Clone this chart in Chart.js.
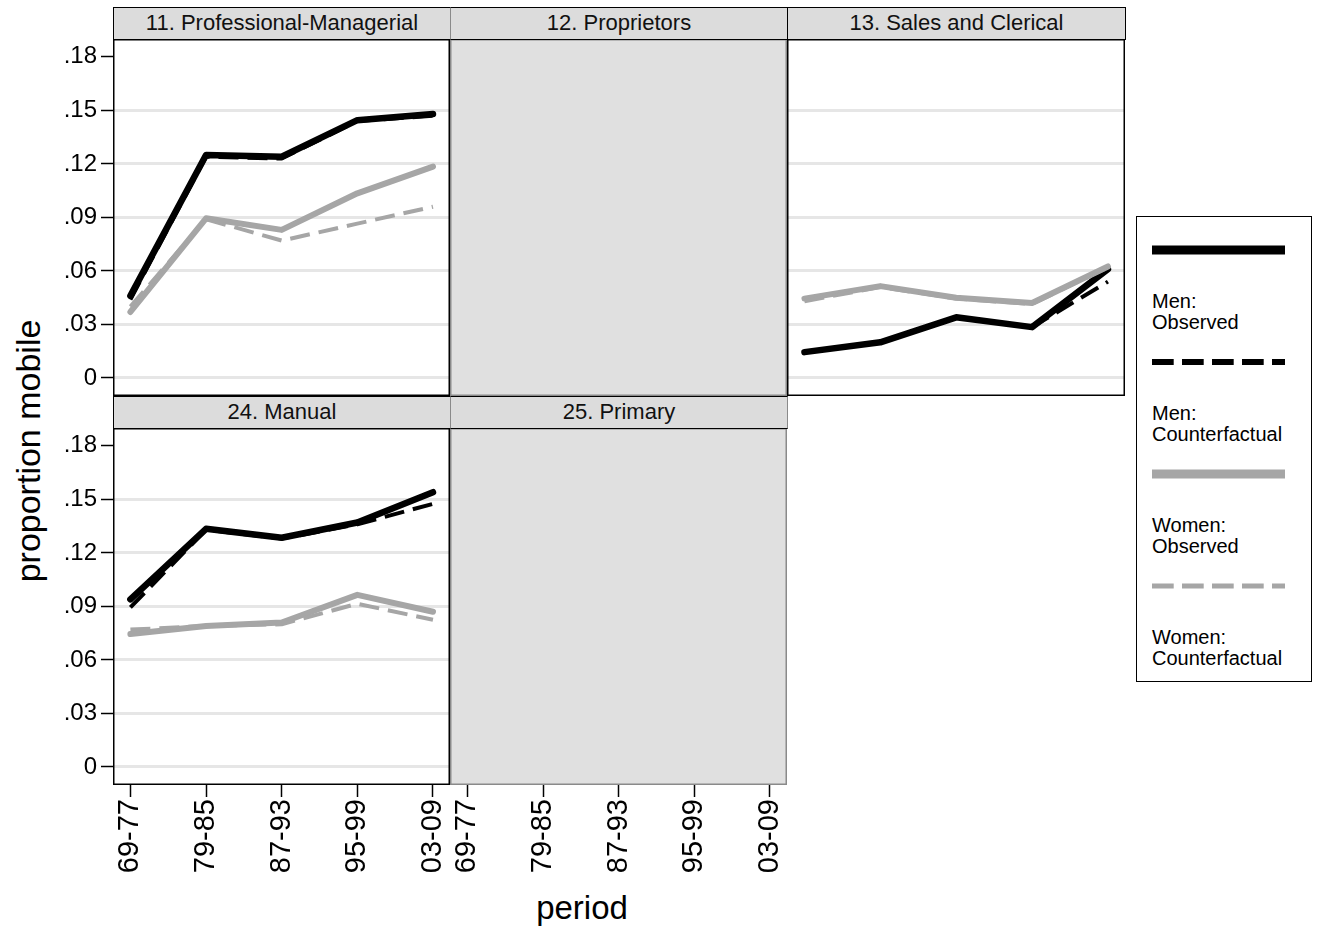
<!DOCTYPE html>
<html>
<head>
<meta charset="utf-8">
<title>proportion mobile by period</title>
<script src="https://cdn.jsdelivr.net/npm/chart.js@4/dist/chart.umd.min.js"></script>
<style>
  html, body { margin: 0; padding: 0; background: #fff; }
  body {
    width: 1318px; height: 929px; position: relative; overflow: hidden;
    font-family: "Liberation Sans", Arial, Helvetica, sans-serif; color: #000;
  }
  canvas { position: absolute; display: block; }
  .strip {
    position: absolute; box-sizing: border-box; height: 33px;
    background: #dcdcdc; border: 1.5px solid #000;
    font-size: 22px; line-height: 30px; text-align: center; color: #111;
    white-space: nowrap; z-index: 5;
  }
  .strip.empty { border-left-color: #8a8a8a; border-right-color: #8a8a8a; }
  .axis-title { position: absolute; white-space: nowrap; line-height: 1; }
  #ytitle { left: 28px; top: 451px; font-size: 34px; transform: translate(-50%, -50%) rotate(-90deg); }
  #xtitle { left: 582px; top: 907px; font-size: 33px; transform: translate(-50%, -50%); }
  #legend {
    position: absolute; left: 1136px; top: 216px; width: 176px; height: 466px;
    box-sizing: border-box; border: 1.5px solid #000; background: #fff;
  }
  #legend svg { position: absolute; left: 15px; }
  #legend .lt { position: absolute; left: 15px; font-size: 20px; line-height: 21px; white-space: nowrap; }
</style>
</head>
<body>
<div id="ytitle" class="axis-title">proportion mobile</div>
<div id="xtitle" class="axis-title">period</div>
<div id="legend"></div>

<script>
// ---- data -------------------------------------------------------------
const periods = ['69-77', '79-85', '87-93', '95-99', '03-09'];
const yTickValues = [0, 0.03, 0.06, 0.09, 0.12, 0.15, 0.18];
const yTickLabels = ['0', '.03', '.06', '.09', '.12', '.15', '.18'];

const seriesNames = [
  ['Men:', 'Observed'],
  ['Men:', 'Counterfactual'],
  ['Women:', 'Observed'],
  ['Women:', 'Counterfactual']
];

// 11. Professional-Managerial
const profMenObs     = [0.046, 0.125, 0.124, 0.1445, 0.148];
const profMenCf      = [0.044, 0.124, 0.123, 0.144, 0.147];
const profWomenObs   = [0.037, 0.0895, 0.083, 0.1035, 0.1185];
const profWomenCf    = [0.040, 0.089, 0.077, 0.0865, 0.096];

// 13. Sales and Clerical
const salesMenObs    = [0.0145, 0.020, 0.034, 0.0285, 0.061];
const salesMenCf     = [0.0145, 0.020, 0.034, 0.0285, 0.054];
const salesWomenObs  = [0.0445, 0.0515, 0.045, 0.042, 0.0625];
const salesWomenCf   = [0.043, 0.051, 0.0445, 0.0415, 0.062];

// 24. Manual
const manMenObs      = [0.094, 0.1335, 0.1285, 0.137, 0.154];
const manMenCf       = [0.0895, 0.133, 0.128, 0.136, 0.1475];
const manWomenObs    = [0.0745, 0.079, 0.081, 0.0965, 0.087];
const manWomenCf     = [0.077, 0.079, 0.080, 0.0915, 0.0825];

// ---- styling ----------------------------------------------------------
const FONT = '"Liberation Sans", Arial, Helvetica, sans-serif';
const GRAY = '#a6a6a6';
const seriesStyle = [
  { color: '#000', width: 6.5, dash: [],     legendWidth: 9, order: 4 },
  { color: '#000', width: 4,   dash: [20, 9], legendWidth: 6, order: 3 },
  { color: GRAY,   width: 6,   dash: [],     legendWidth: 9, order: 2 },
  { color: GRAY,   width: 4,   dash: [20, 9], legendWidth: 5, order: 1 }
];

const colLeft = [113, 450, 787];
const colWidth = [337, 337, 338];
const plotTop = [39, 428];
const stripTop = [7, 396];
const PLOT_H = 357;
const Y_AXIS_W = 113;
const X_AXIS_H = 100;
const X_MIN = -0.23, X_MAX = 4.225;
const Y_MIN = -0.0101, Y_MAX = 0.19;

const panels = [
  { title: '11. Professional-Managerial', col: 0, row: 0, yLabels: true,  xLabels: false,
    series: [profMenObs, profMenCf, profWomenObs, profWomenCf] },
  { title: '12. Proprietors', col: 1, row: 0, yLabels: false, xLabels: false, series: null },
  { title: '13. Sales and Clerical', col: 2, row: 0, yLabels: false, xLabels: false,
    series: [salesMenObs, salesMenCf, salesWomenObs, salesWomenCf] },
  { title: '24. Manual', col: 0, row: 1, yLabels: true, xLabels: true,
    series: [manMenObs, manMenCf, manWomenObs, manWomenCf] },
  { title: '25. Primary', col: 1, row: 1, yLabels: false, xLabels: true, series: null }
];

// Fills the plot region (empty panels) and draws the panel frame.
const panelFrame = {
  id: 'panelFrame',
  beforeDraw(chart, args, opts) {
    if (!opts.fill) return;
    const a = chart.chartArea, ctx = chart.ctx;
    ctx.save();
    ctx.fillStyle = opts.fill;
    ctx.fillRect(a.left, a.top, a.right - a.left, a.bottom - a.top);
    ctx.restore();
  },
  afterDraw(chart, args, opts) {
    const a = chart.chartArea, ctx = chart.ctx;
    ctx.save();
    ctx.strokeStyle = opts.color || '#000';
    ctx.lineWidth = 1.5;
    ctx.strokeRect(a.left + 0.75, a.top + 0.75, a.right - a.left - 1.5, a.bottom - a.top - 1.5);
    ctx.restore();
  }
};

function makePanel(p) {
  const empty = !p.series;
  const left = p.col === 0 ? 0 : colLeft[p.col];
  const width = (p.col === 0 ? Y_AXIS_W : 0) + colWidth[p.col];
  const height = PLOT_H + (p.xLabels ? X_AXIS_H : 0);

  const canvas = document.createElement('canvas');
  canvas.width = width; canvas.height = height;
  canvas.style.left = left + 'px';
  canvas.style.top = plotTop[p.row] + 'px';
  canvas.style.width = width + 'px';
  canvas.style.height = height + 'px';
  canvas.style.zIndex = empty ? 2 : 1;
  document.body.appendChild(canvas);

  const strip = document.createElement('div');
  strip.className = 'strip' + (empty ? ' empty' : '');
  strip.textContent = p.title;
  strip.style.left = colLeft[p.col] + 'px';
  strip.style.top = stripTop[p.row] + 'px';
  strip.style.width = (colWidth[p.col] + 1) + 'px';
  document.body.appendChild(strip);

  const datasets = empty ? [] : p.series.map((vals, i) => ({
    label: seriesNames[i].join(' '),
    data: vals.map((v, k) => ({ x: k, y: v })),
    borderColor: seriesStyle[i].color,
    borderWidth: seriesStyle[i].width,
    borderDash: seriesStyle[i].dash,
    borderJoinStyle: 'round',
    borderCapStyle: seriesStyle[i].dash.length ? 'butt' : 'round',
    pointRadius: 0,
    tension: 0,
    fill: false,
    order: seriesStyle[i].order
  }));

  const noPad = s => { s.paddingLeft = 0; s.paddingRight = 0; s.paddingTop = 0; s.paddingBottom = 0; };

  new Chart(canvas, {
    type: 'line',
    data: { datasets },
    plugins: [panelFrame],
    options: {
      responsive: false,
      animation: false,
      devicePixelRatio: 1,
      layout: { padding: 0 },
      plugins: {
        legend: { display: false },
        tooltip: { enabled: false },
        title: { display: false },
        panelFrame: { fill: empty ? '#e0e0e0' : null, color: empty ? '#8a8a8a' : '#000' }
      },
      scales: {
        x: {
          type: 'linear',
          min: X_MIN, max: X_MAX,
          display: p.xLabels,
          afterBuildTicks: s => { s.ticks = periods.map((_, i) => ({ value: i })); },
          afterFit: s => { if (p.xLabels) s.height = X_AXIS_H; noPad(s); },
          border: { display: false },
          grid: {
            drawOnChartArea: false, drawTicks: true,
            tickLength: 12, tickColor: '#000', tickWidth: 1.5
          },
          ticks: {
            autoSkip: false, minRotation: 90, maxRotation: 90, padding: 2,
            color: '#000', font: { family: FONT, size: 29 },
            callback: (v, i) => periods[i]
          }
        },
        y: {
          type: 'linear',
          min: Y_MIN, max: Y_MAX,
          display: !empty,
          afterBuildTicks: s => { s.ticks = yTickValues.map(v => ({ value: v })); },
          afterFit: s => { s.width = p.col === 0 ? Y_AXIS_W : 0; noPad(s); },
          border: { display: false },
          grid: {
            color: c => (c.index === yTickValues.length - 1 ? 'rgba(0,0,0,0)' : '#e6e6e6'),
            lineWidth: 3,
            drawTicks: p.yLabels,
            tickLength: 12, tickColor: '#000', tickWidth: 1.5
          },
          ticks: {
            display: p.yLabels, padding: 4, color: '#000',
            font: { family: FONT, size: 24 },
            callback: (v, i) => yTickLabels[i]
          }
        }
      }
    }
  });
}

panels.forEach(makePanel);

// Legend: sample line above a two-line label, one entry per series.
(function buildLegend() {
  const box = document.getElementById('legend');
  const step = 112, firstLine = 33;
  seriesNames.forEach((name, i) => {
    const st = seriesStyle[i];
    const cy = firstLine + step * i;
    const svgNS = 'http://www.w3.org/2000/svg';
    const svg = document.createElementNS(svgNS, 'svg');
    svg.setAttribute('width', '134');
    svg.setAttribute('height', '14');
    svg.style.top = (cy - 7) + 'px';
    const ln = document.createElementNS(svgNS, 'line');
    ln.setAttribute('x1', '0'); ln.setAttribute('x2', '133');
    ln.setAttribute('y1', '7'); ln.setAttribute('y2', '7');
    ln.setAttribute('stroke', st.color);
    ln.setAttribute('stroke-width', st.legendWidth);
    if (st.dash.length) ln.setAttribute('stroke-dasharray', '21.7 8.3');
    svg.appendChild(ln);
    box.appendChild(svg);

    const txt = document.createElement('div');
    txt.className = 'lt';
    txt.style.top = (cy + 51 - 10.5) + 'px';
    txt.innerHTML = name[0] + '<br>' + name[1];
    box.appendChild(txt);
  });
})();
</script>
</body>
</html>
